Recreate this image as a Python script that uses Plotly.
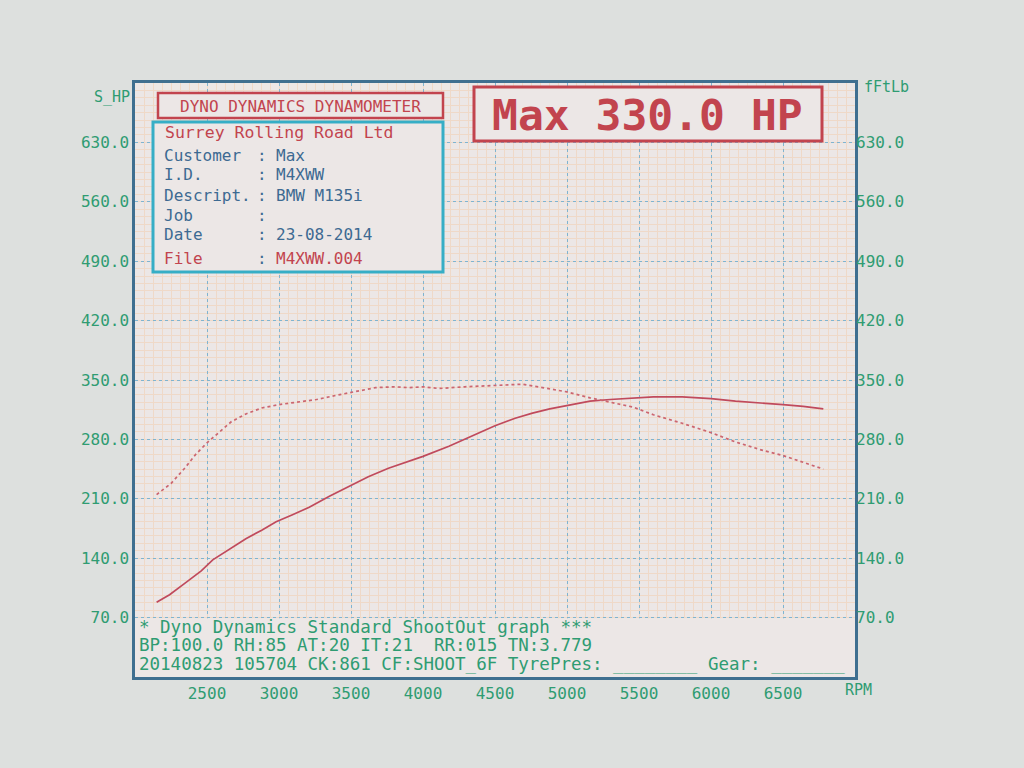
import plotly.graph_objects as go

# ---- data read from the dyno sheet ----
rpm_torque = [2150, 2250, 2350, 2420, 2500, 2580, 2670, 2770, 2880, 3000, 3120, 3260,
              3400, 3530, 3670, 3800, 3900, 4000, 4110, 4290, 4500, 4690, 4830, 5000,
              5160, 5320, 5460, 5600, 5800, 6000, 6170, 6360, 6500, 6640, 6780]
torque_ftlb = [215, 228, 247, 262, 276, 288, 301, 310, 317, 321, 324, 327,
               332, 336, 341, 342, 341, 342, 340, 342, 344, 345, 341, 336,
               329, 323, 318, 309, 299, 288, 277, 267, 261, 253, 245]

rpm_power = [2150, 2240, 2350, 2460, 2540, 2650, 2770, 2880, 2980, 3090, 3210, 3350,
             3490, 3620, 3760, 3880, 4000, 4180, 4290, 4400, 4500, 4640, 4760, 4880,
             5000, 5160, 5300, 5460, 5600, 5800, 6000, 6170, 6360, 6500, 6640, 6780]
power_hp = [88, 97, 111, 125, 138, 150, 163, 173, 183, 191, 200, 213,
            225, 236, 246, 253, 260, 272, 280, 288, 296, 305, 311, 316,
            320, 325, 327, 329, 330, 330, 328, 325, 323, 321, 319, 316]

x_ticks = [2500, 3000, 3500, 4000, 4500, 5000, 5500, 6000, 6500]
y_ticks = [70, 140, 210, 280, 350, 420, 490, 560, 630]
y_labels = ["%.1f" % v for v in y_ticks]

info_rows = [("Customer", "Max"), ("I.D.", "M4XWW"), ("Descript.", "BMW M135i"),
             ("Job", ""), ("Date", "23-08-2014")]
footer_lines = ["* Dyno Dynamics Standard ShootOut graph ***",
                "BP:100.0 RH:85 AT:20 IT:21  RR:015 TN:3.779",
                "20140823 105704 CK:861 CF:SHOOT_6F TyrePres: ________ Gear: _______"]

# ---- style ----
MONO = "DejaVu Sans Mono"
GREEN = "#2f9c72"
RED = "#c2444e"
BLUE = "#3d6a92"
CYAN = "#36aec6"
FRAME = "#3f6f90"
PLOT_BG = "#ece7e6"
PAPER_BG = "#dde0de"

L, R, T, B = 135, 855, 83, 677
W, H = 1024, 768


def PX(x):
    return (x - L) / (R - L)


def PY(y):
    return (B - y) / (B - T)


fig = go.Figure()
fig.add_trace(go.Scatter(x=rpm_power, y=power_hp, mode="lines",
                         line=dict(color="#c04a5c", width=1.7),
                         showlegend=False, name="S_HP"))
fig.add_trace(go.Scatter(x=rpm_torque, y=torque_ftlb, mode="lines", yaxis="y2",
                         line=dict(color="#cc6670", width=1.7, dash="dot"),
                         showlegend=False, name="fFtLb"))

shapes = []
# footer area covering the grid
shapes.append(dict(type="rect", xref="x", yref="y", x0=2000, x1=7000, y0=0, y1=69.3,
                   fillcolor=PLOT_BG, line=dict(width=0), layer="between"))
# title box
shapes.append(dict(type="rect", xref="paper", yref="paper", x0=PX(158), x1=PX(443),
                   y0=PY(118), y1=PY(93), fillcolor=PLOT_BG,
                   line=dict(color=RED, width=2.5), layer="above"))
# info box
shapes.append(dict(type="rect", xref="paper", yref="paper", x0=PX(153), x1=PX(443),
                   y0=PY(272), y1=PY(122), fillcolor=PLOT_BG,
                   line=dict(color=CYAN, width=3), layer="above"))
# max box
shapes.append(dict(type="rect", xref="paper", yref="paper", x0=PX(474), x1=PX(822),
                   y0=PY(141), y1=PY(87), fillcolor=PLOT_BG,
                   line=dict(color=RED, width=3), layer="above"))

ann = []


def txt(x, y, s, color, size, xanchor="left", bold=False):
    if bold:
        s = "<b>" + s + "</b>"
    ann.append(dict(x=PX(x), y=PY(y), xref="paper", yref="paper", text=s,
                    showarrow=False, xanchor=xanchor, yanchor="middle",
                    font=dict(family=MONO, size=size, color=color)))


txt(300, 106, "DYNO DYNAMICS DYNAMOMETER", RED, 16, "center")
txt(647, 115, "Max 330.0 HP", RED, 43, "center", bold=True)
txt(163, 133, "Surrey Rolling Road Ltd", RED, 16.5)
row_y = [155, 175, 195, 215, 235]
for (lab, val), yy in zip(info_rows, row_y):
    txt(162, yy, lab, BLUE, 16)
    txt(255, yy, ":", BLUE, 16)
    if val:
        txt(274, yy, val, BLUE, 16)
txt(162, 258, "File", RED, 16)
txt(255, 258, ":", BLUE, 16)
txt(274, 258, "M4XWW.004", RED, 16)

for s, yy in zip(footer_lines, [627, 645, 664]):
    txt(137, yy, s, GREEN, 17.5)

txt(112, 97, "S_HP", GREEN, 15, "center")
txt(886, 87, "fFtLb", GREEN, 15, "center")
txt(858, 690, "RPM", GREEN, 15, "center")

axis_font = dict(family=MONO, size=16, color=GREEN)

fig.update_layout(
    width=W, height=H,
    margin=dict(l=L, r=W - R, t=T, b=H - B, autoexpand=False),
    paper_bgcolor=PAPER_BG, plot_bgcolor=PLOT_BG,
    shapes=shapes, annotations=ann,
    xaxis=dict(range=[2000, 7000], tickvals=x_ticks, ticktext=[str(v) for v in x_ticks],
               tickfont=axis_font, showgrid=True, gridcolor="#7fb4d0", griddash="dot",
               gridwidth=1.4, zeroline=False, showline=True, mirror=True,
               linecolor=FRAME, linewidth=2.5, ticks="",
               minor=dict(tick0=2000, dtick=62.5, showgrid=True, gridcolor="#efd9c8",
                          griddash="solid", gridwidth=1)),
    yaxis=dict(range=[0, 700], tickvals=y_ticks, ticktext=y_labels, tickfont=axis_font,
               showgrid=True, gridcolor="#7fb4d0", griddash="dot", gridwidth=1.4,
               zeroline=False, showline=True, mirror=True, linecolor=FRAME,
               linewidth=2.5, ticks="",
               minor=dict(tick0=0, dtick=8.75, showgrid=True, gridcolor="#efd9c8",
                          griddash="solid", gridwidth=1)),
    yaxis2=dict(range=[0, 700], tickvals=y_ticks, ticktext=y_labels, tickfont=axis_font,
                overlaying="y", side="right", showgrid=False, zeroline=False,
                showline=False, ticks=""),
)

fig.write_html("out.html", config={"displayModeBar": False},
               post_script="document.body.style.margin='0';"
                           "document.body.style.overflow='hidden';")
